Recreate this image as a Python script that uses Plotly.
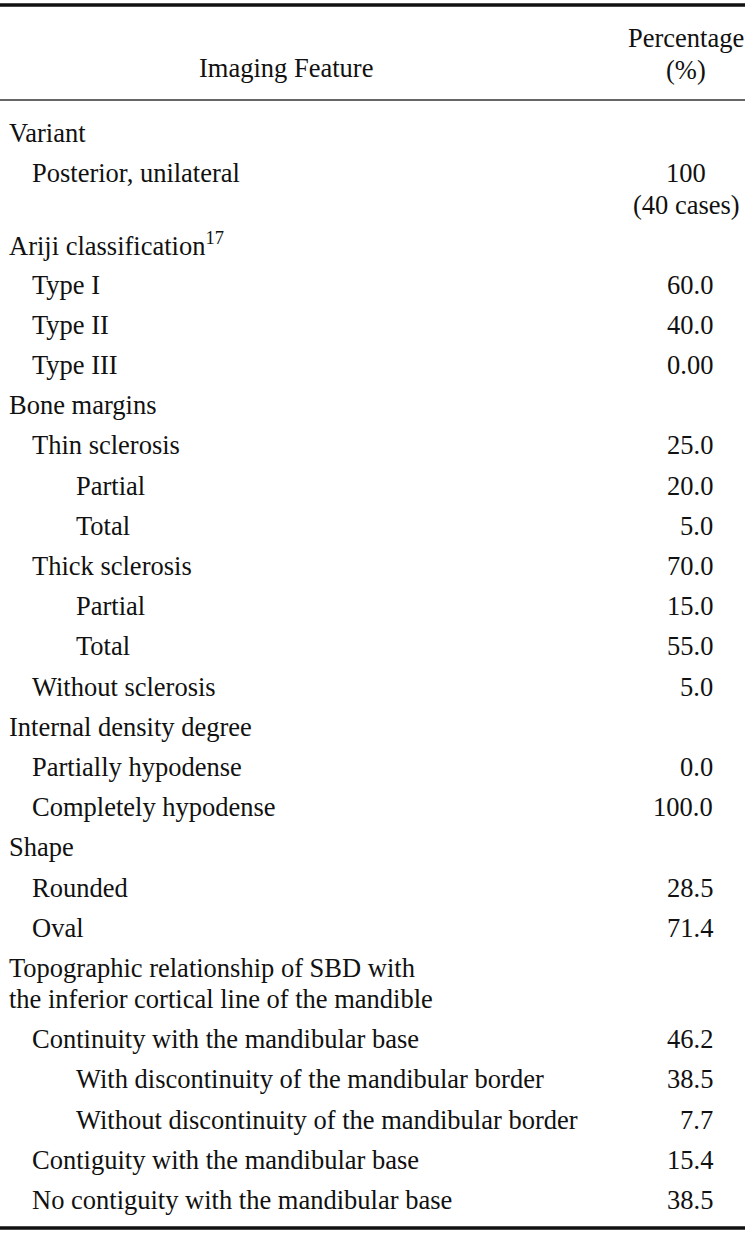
import plotly.graph_objects as go

# ---- data ----
header_feature = "Imaging Feature"
header_value = "Percentage<br>(%)"

features = [
    "Variant",
    "Posterior, unilateral",
    "Ariji classification<sup>17</sup>",
    "Type I",
    "Type II",
    "Type III",
    "Bone margins",
    "Thin sclerosis",
    "Partial",
    "Total",
    "Thick sclerosis",
    "Partial",
    "Total",
    "Without sclerosis",
    "Internal density degree",
    "Partially hypodense",
    "Completely hypodense",
    "Shape",
    "Rounded",
    "Oval",
    "Topographic relationship of SBD with<br>the inferior cortical line of the mandible",
    "Continuity with the mandibular base",
    "With discontinuity of the mandibular border",
    "Without discontinuity of the mandibular border",
    "Contiguity with the mandibular base",
    "No contiguity with the mandibular base",
]
levels = [0, 1, 0, 1, 1, 1, 0, 1, 2, 2, 1, 2, 2, 1, 0, 1, 1, 0, 1, 1, 0, 1, 2, 2, 1, 1]
values = [
    "", "100<br>(40 cases)", "", "60.0", "40.0", "0.00", "",
    "25.0", "20.0", "5.0", "70.0", "15.0", "55.0", "5.0", "",
    "0.0", "100.0", "", "28.5", "71.4", "",
    "46.2", "38.5", "7.7", "15.4", "38.5",
]

# ---- layout parameters ----
W, H = 753, 1236
FONT = dict(family="Liberation Serif", size=26.5, color="#111111")
indent_x = {0: 7, 1: 30, 2: 74}
value_right = 715
value_center = 686
first_y = 133
row_gap = 40.2
line_gap = 31

fig = go.Figure()

ann = []
# header
ann.append(dict(x=286, y=68, text=header_feature, xanchor="center", yanchor="middle"))
for k, line in enumerate(header_value.split("<br>")):
    ann.append(dict(x=value_center, y=38 + k * 32, text=line, xanchor="center", yanchor="middle"))

extra = 0
for i, (feat, lev, val) in enumerate(zip(features, levels, values)):
    y0 = first_y + i * row_gap + extra
    flines = feat.split("<br>")
    vlines = val.split("<br>") if val else []
    for k, line in enumerate(flines):
        ann.append(dict(x=indent_x[lev], y=y0 + k * line_gap, text=line,
                        xanchor="left", yanchor="middle"))
    if len(vlines) > 1:
        for k, line in enumerate(vlines):
            ann.append(dict(x=value_center, y=y0 + k * line_gap + (1 if k else 0), text=line,
                            xanchor="center", yanchor="middle"))
    elif vlines:
        ann.append(dict(x=value_right, y=y0, text=vlines[0], xanchor="right", yanchor="middle"))
    nlines = max(len(flines), len(vlines))
    extra += (nlines - 1) * line_gap

for a in ann:
    a.update(xref="x", yref="y", showarrow=False, font=FONT)

shapes = [
    dict(type="line", xref="x", yref="y", x0=0, x1=745, y0=5, y1=5,
         line=dict(color="#111111", width=3.5)),
    dict(type="line", xref="x", yref="y", x0=0, x1=745, y0=100, y1=100,
         line=dict(color="#333333", width=1.5)),
    dict(type="line", xref="x", yref="y", x0=0, x1=745, y0=1228, y1=1228,
         line=dict(color="#111111", width=3.5)),
]

fig.update_layout(
    width=W, height=H,
    margin=dict(l=0, r=0, t=0, b=0),
    paper_bgcolor="white", plot_bgcolor="white",
    xaxis=dict(range=[0, W], visible=False, fixedrange=True),
    yaxis=dict(range=[H, 0], visible=False, fixedrange=True),
    annotations=ann, shapes=shapes, showlegend=False,
)

fig.write_html("out.html", config={"displayModeBar": False},
               post_script="document.body.style.margin='0px';document.body.style.overflow='hidden';")
